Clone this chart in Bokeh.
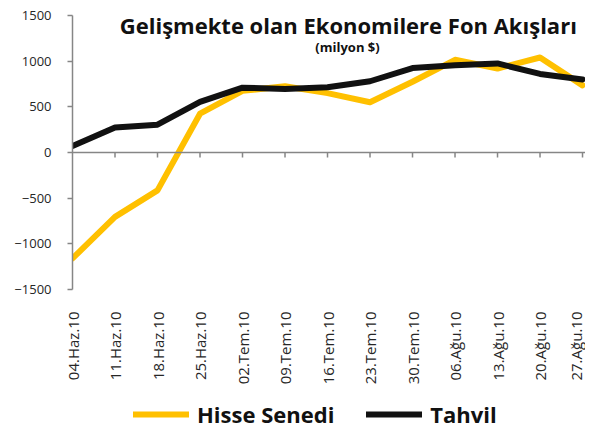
import math
from bokeh.plotting import figure
from bokeh.layouts import column
from bokeh.models import Range1d, FixedTicker, Legend, LegendItem, Label, Span
from bokeh.embed import file_html
from bokeh.resources import INLINE

dates = ["04.Haz.10", "11.Haz.10", "18.Haz.10", "25.Haz.10", "02.Tem.10", "09.Tem.10",
         "16.Tem.10", "23.Tem.10", "30.Tem.10", "06.Ağu.10", "13.Ağu.10", "20.Ağu.10", "27.Ağu.10"]
hisse = [-1160, -705, -415, 425, 675, 725, 650, 550, 775, 1015, 920, 1040, 735]
tahvil = [70, 275, 305, 555, 710, 695, 715, 780, 925, 955, 975, 860, 800]
y_ticks = [-1500, -1000, -500, 0, 500, 1000, 1500]
title_text = "Gelişmekte olan Ekonomilere Fon Akışları"
subtitle_text = "(milyon $)"
series_names = ["Hisse Senedi", "Tahvil"]
series_colors = ["#FFC000", "#111111"]

xs = list(range(len(dates)))
FONT = "Open Sans"
GRAY = "#868686"
Y0, Y1 = -1500, 1500
FRAME_H = 274
TICK_PX = 5
W = 585

p = figure(width=W, height=400, output_backend="svg", toolbar_location=None,
           x_range=Range1d(0, len(dates) - 1 + 0.07), y_range=Range1d(Y0, Y1),
           min_border_left=72, min_border_right=0, min_border_top=15, min_border_bottom=111)
p.outline_line_color = None
p.xgrid.visible = False
p.ygrid.visible = False
p.background_fill_color = "white"
p.border_fill_color = "white"

# bottom axis: labels only
xa = p.xaxis[0]
xa.ticker = FixedTicker(ticks=xs)
xa.major_label_overrides = {i: d for i, d in zip(xs, dates)}
xa.major_label_orientation = math.pi / 2
xa.axis_line_color = None
xa.major_tick_line_color = None
xa.minor_tick_line_color = None
xa.major_label_standoff = 16
xa.major_label_text_font = FONT
xa.major_label_text_font_size = "15px"
xa.major_label_text_color = "#262626"

# zero line with downward ticks
p.add_layout(Span(location=0, dimension="width", line_color=GRAY, line_width=1.5))
tick_len = TICK_PX * (Y1 - Y0) / FRAME_H
p.segment(x0=xs[1:], x1=xs[1:], y0=[0] * (len(xs) - 1), y1=[-tick_len] * (len(xs) - 1),
          line_color=GRAY, line_width=1.5)

ya = p.yaxis[0]
ya.ticker = FixedTicker(ticks=y_ticks)
ya.axis_line_color = GRAY
ya.axis_line_width = 1.5
ya.major_tick_line_color = GRAY
ya.major_tick_line_width = 1.5
ya.major_tick_in = 0
ya.major_tick_out = 5
ya.minor_tick_line_color = None
ya.major_label_standoff = 16
ya.major_label_text_font = FONT
ya.major_label_text_font_size = "13px"
ya.major_label_text_color = "#262626"

p.line(xs, hisse, line_color=series_colors[0], line_width=6, line_join="round", line_cap="round")
p.line(xs, tahvil, line_color=series_colors[1], line_width=6, line_join="round", line_cap="round")

p.add_layout(Label(x=6.49, y=1401, text=title_text, text_font=FONT, text_font_style="bold",
                   text_font_size="22px", text_align="center", text_baseline="alphabetic",
                   text_color="#111111"))
p.add_layout(Label(x=6.47, y=1160, text=subtitle_text, text_font=FONT, text_font_style="bold",
                   text_font_size="13px", text_align="center", text_baseline="alphabetic",
                   text_color="#111111"))

# legend strip below the chart (its frame is aligned with the main frame, left at 72px)
lg = figure(width=W, height=29, output_backend="svg", toolbar_location=None,
            x_range=Range1d(0, len(dates) - 1 + 0.07), y_range=Range1d(5000, 6000),
            x_axis_location=None, y_axis_location=None,
            min_border_left=72, min_border_right=0, min_border_top=0, min_border_bottom=0)
lg.outline_line_color = None
lg.xgrid.visible = False
lg.ygrid.visible = False
lg.background_fill_color = "white"
lg.border_fill_color = "white"
series_vals = [hisse, tahvil]
lg_r = [lg.line(xs, v, line_color=c, line_width=6, line_cap="round")
        for v, c in zip(series_vals, series_colors)]
legend = Legend(items=[LegendItem(label=n, renderers=[r]) for n, r in zip(series_names, lg_r)],
                orientation="horizontal", location=(61, 0),
                label_text_font=FONT, label_text_font_style="bold", label_text_font_size="22px",
                label_text_color="#111111", label_height=22,
                glyph_width=56, glyph_height=20, label_standoff=8, spacing=32,
                border_line_color=None, background_fill_alpha=0, padding=0, margin=0)
lg.add_layout(legend)

layout = column(p, lg, spacing=0)
open("out.html", "w").write(file_html(layout, INLINE))
